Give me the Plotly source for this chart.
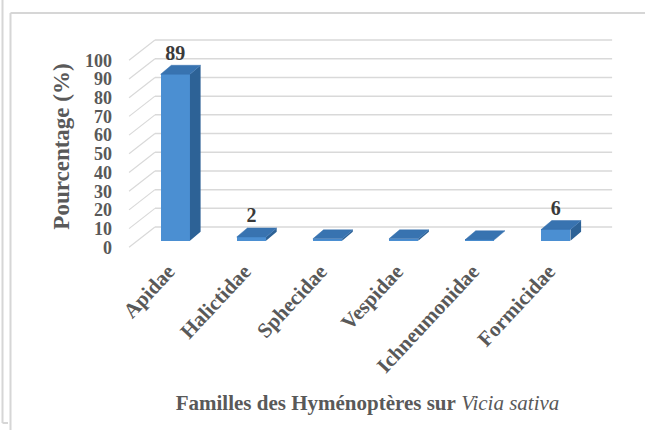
import plotly.graph_objects as go

# ---------------- data ----------------
categories = ["Apidae", "Halictidae", "Sphecidae", "Vespidae", "Ichneumonidae", "Formicidae"]
percentages = [89, 2, 1, 1, 0.5, 6]
value_labels = ["89", "2", "", "", "", "6"]
y_ticks = [0, 10, 20, 30, 40, 50, 60, 70, 80, 90, 100]

# ---------------- geometry / style ----------------
W, H = 645, 430
L, R, T, B = 115, 25, 36, 173
PX_X, X0_PX = 76.1, 175.3
PX_Y, Y0_PX = 1.87, 240.7
xr = [(L - X0_PX) / PX_X, (W - R - X0_PX) / PX_X]
yr = [(Y0_PX - (H - B)) / PX_Y, (Y0_PX - T) / PX_Y]

BAR_W = 0.385      # bar width (category units)
DX, DY = 0.14, 4.8  # 3-D depth of bars
LABEL_SHIFT = 3.53  # front (label) plane below bar plane
WALL_DY = 7.3       # back wall above bar plane
WALL_X0, WALL_X1 = -0.267, 5.74
FRONT_X = -0.608
LABEL_DY = 10.5

FONT = "Liberation Serif, Times New Roman, DejaVu Serif, serif"
GRAY = "#595959"
FRONT_C, SIDE_C, TOP_C = "#4b8fd2", "#2d6296", "#3873b0"
GRID_C = "#d9d9d9"

xs = list(range(len(categories)))

fig = go.Figure()

# front faces
fig.add_trace(go.Bar(x=xs, y=percentages, width=BAR_W, marker=dict(color=FRONT_C, line=dict(width=0)),
                     hoverinfo="skip", showlegend=False))

# side and top faces
sx, sy, tx, ty = [], [], [], []
for i, v in zip(xs, percentages):
    r = i + BAR_W / 2
    l = i - BAR_W / 2
    sx += [r, r + DX, r + DX, r, r, None]
    sy += [0, DY, v + DY, v, 0, None]
    tx += [l, r, r + DX, l + DX, l, None]
    ty += [v, v, v + DY, v + DY, v, None]
fig.add_trace(go.Scatter(x=sx, y=sy, fill="toself", fillcolor=SIDE_C, mode="lines",
                         line=dict(width=0, color=SIDE_C), hoverinfo="skip", showlegend=False))
fig.add_trace(go.Scatter(x=tx, y=ty, fill="toself", fillcolor=TOP_C, mode="lines",
                         line=dict(width=0.5, color=TOP_C), hoverinfo="skip", showlegend=False))

# data labels
fig.add_trace(go.Scatter(x=xs, y=[v + LABEL_DY for v in percentages], text=value_labels, mode="text",
                         textfont=dict(family=FONT, size=20, color="#3a3a3a", weight="bold"),
                         hoverinfo="skip", showlegend=False))

# axis used only for front tick labels
fig.add_trace(go.Scatter(x=[None], y=[None], yaxis="y2", showlegend=False, hoverinfo="skip"))

shapes = []
for t in y_ticks:
    shapes.append(dict(type="line", xref="x", yref="y", x0=WALL_X0, x1=WALL_X1,
                       y0=t + WALL_DY, y1=t + WALL_DY, line=dict(color=GRID_C, width=1.5), layer="below"))
    shapes.append(dict(type="line", xref="x", yref="y", x0=FRONT_X, x1=WALL_X0,
                       y0=t - LABEL_SHIFT, y1=t + WALL_DY, line=dict(color=GRID_C, width=1.2), layer="below"))

# document frame lines
PW, PH = W - L - R, H - T - B
def px2p(x, y):
    return (x - L) / PW, 1 - (y - T) / PH
FRAME_C = "#d6d6d6"
for (xa, ya, xb, yb) in [(2.5, 0, 2.5, 423), (2.5, 423, 8, 423), (10.5, 13, 10.5, 430), (10.5, 13, 645, 13)]:
    p0, p1 = px2p(xa, ya), px2p(xb, yb)
    shapes.append(dict(type="line", xref="paper", yref="paper", x0=p0[0], y0=p0[1], x1=p1[0], y1=p1[1],
                       line=dict(color=FRAME_C, width=2)))

fig.update_layout(
    width=W, height=H,
    margin=dict(l=L, r=R, t=T, b=B, autoexpand=False),
    paper_bgcolor="white", plot_bgcolor="white",
    bargap=0,
    shapes=shapes,
    xaxis=dict(range=xr, tickmode="array", tickvals=xs, ticktext=categories, tickangle=-47,
               showgrid=False, zeroline=False, showline=False, ticks="",
               ticklabelshift=-7, ticklabelstandoff=-3,
               tickfont=dict(family=FONT, size=21, color=GRAY, weight="bold"),
               title=dict(text="<b>Familles des Hyménoptères sur</b> <i>Vicia sativa</i>",
                          font=dict(family=FONT, size=21, color=GRAY), standoff=18)),
    yaxis=dict(range=yr, visible=False, showgrid=False, zeroline=False),
    yaxis2=dict(range=[yr[0] + LABEL_SHIFT, yr[1] + LABEL_SHIFT], overlaying="y", side="left", anchor="x",
                tickmode="array", tickvals=y_ticks, showgrid=False, zeroline=False, showline=False, ticks="",
                ticklabelstandoff=2,
                tickfont=dict(family=FONT, size=18, color=GRAY, weight="bold"),
                title=dict(text="Pourcentage (%)", font=dict(family=FONT, size=23, color=GRAY, weight="bold"),
                           standoff=8)),
)

fig.write_html("out.html", config={"displayModeBar": False},
               post_script="document.body.style.margin='0';")
